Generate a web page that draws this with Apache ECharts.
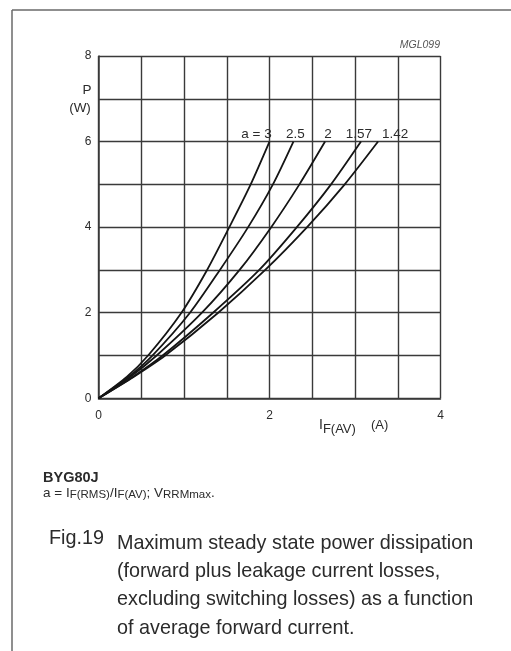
<!DOCTYPE html>
<html><head><meta charset="utf-8">
<script src="https://cdn.jsdelivr.net/npm/echarts@6/dist/echarts.min.js"></script>
<style>html,body{margin:0;padding:0;background:#fff}#c{width:511px;height:651px}</style>
</head><body><div id="c"></div>
<script>
// ---- data ----
const powerW = [0, 0.5, 1, 2, 3, 4, 5, 6];
const current_a3   = [0, 0.33, 0.58, 0.97, 1.27, 1.53, 1.78, 2.00];
const current_a25  = [0, 0.35, 0.63, 1.07, 1.42, 1.75, 2.04, 2.28];
const current_a2   = [0, 0.37, 0.68, 1.21, 1.65, 2.02, 2.35, 2.65];
const current_a157 = [0, 0.40, 0.75, 1.34, 1.88, 2.32, 2.72, 3.07];
const current_a142 = [0, 0.41, 0.78, 1.40, 1.95, 2.44, 2.88, 3.27];
const curveNames = ['a = 3', '2.5', '2', '1.57', '1.42'];
const xTickLabels = [0, 2, 4];
const yTickLabels = [0, 2, 4, 6, 8];

const FONT = "'Liberation Sans', Arial, Helvetica, sans-serif";
const TXT = '#2b2b2b';
const GRIDC = '#3a3a3a';

const curves = [current_a3, current_a25, current_a2, current_a157, current_a142];
const labelShift = [-13, 2, 3, -2, 17];

const series = curves.map((cur, k) => ({
  type: 'line',
  name: curveNames[k],
  smooth: 0.25,
  showSymbol: true,
  symbol: 'circle',
  symbolSize: 0,
  silent: true,
  lineStyle: { color: '#151515', width: 1.8 },
  itemStyle: { color: '#151515' },
  data: cur.map((x, i) => {
    const item = { value: [x, powerW[i]] };
    if (i === cur.length - 1) {
      item.label = {
        show: true, position: 'top', distance: 0,
        offset: [labelShift[k], 0],
        formatter: curveNames[k],
        fontFamily: FONT, fontSize: 13.5, color: TXT
      };
    }
    return item;
  })
}));

// helper to lay out text segments with subscripts
const cv = document.createElement('canvas').getContext('2d');
function segs(x, y, parts) {
  const out = [];
  let cx = x;
  parts.forEach(p => {
    const font = (p.bold ? 'bold ' : '') + p.size + 'px ' + FONT;
    cv.font = font;
    out.push({
      type: 'text', left: cx, top: y + (p.dy || 0) - p.size / 2,
      style: { text: p.t, font: font, fill: TXT }
    });
    cx += cv.measureText(p.t).width;
  });
  return out;
}

const graphics = [
  { type: 'line', shape: { x1: 12, y1: 10, x2: 511, y2: 10 }, style: { stroke: '#6a6a6a', lineWidth: 1.5 } },
  { type: 'line', shape: { x1: 12, y1: 10, x2: 12, y2: 651 }, style: { stroke: '#6a6a6a', lineWidth: 1.5 } },
  { type: 'text', right: 71, top: 40, style: { text: 'MGL099', font: 'italic 10.5px ' + FONT, fill: '#555' } },
  { type: 'text', x: 87, y: 90, style: { text: 'P', font: '13.5px ' + FONT, fill: TXT, align: 'center', verticalAlign: 'middle' } },
  { type: 'text', x: 80, y: 108, style: { text: '(W)', font: '13.5px ' + FONT, fill: TXT, align: 'center', verticalAlign: 'middle' } },
  ...segs(319, 425, [
    { t: 'I', size: 14 },
    { t: 'F(AV)', size: 13, dy: 4 }
  ]),
  { type: 'text', left: 371, top: 419, style: { text: '(A)', font: '13px ' + FONT, fill: TXT } },
  { type: 'text', left: 43, top: 470, style: { text: 'BYG80J', font: 'bold 14.5px ' + FONT, fill: TXT } },
  ...segs(43, 493, [
    { t: 'a = I', size: 13.5 },
    { t: 'F(RMS)', size: 11.5, dy: 2 },
    { t: '/I', size: 13.5 },
    { t: 'F(AV)', size: 11.5, dy: 2 },
    { t: '; V', size: 13.5 },
    { t: 'RRMmax', size: 11.5, dy: 2 },
    { t: '.', size: 13.5 }
  ]),
  { type: 'text', left: 49, top: 529, style: { text: 'Fig.19', font: '19.8px ' + FONT, fill: TXT } },
  { type: 'text', left: 117, top: 529, style: {
      text: 'Maximum steady state power dissipation\n(forward plus leakage current losses,\nexcluding switching losses) as a function\nof average forward current.',
      font: '19.8px ' + FONT, lineHeight: 28.3, fill: TXT } }
];

const chart = echarts.init(document.getElementById('c'), null, { renderer: 'canvas' });
chart.setOption({
  backgroundColor: '#ffffff',
  animation: false,
  grid: { left: 98.5, right: 70.5, top: 56, bottom: 252.7, containLabel: false },
  xAxis: {
    type: 'value', min: 0, max: 4, interval: 0.5,
    axisLine: { show: true, lineStyle: { color: GRIDC, width: 1.5 } },
    axisTick: { show: false },
    splitLine: { show: true, lineStyle: { color: GRIDC, width: 1.4 } },
    axisLabel: {
      margin: 11, fontFamily: FONT, fontSize: 12, color: TXT,
      formatter: v => xTickLabels.includes(v) ? String(v) : ''
    }
  },
  yAxis: {
    type: 'value', min: 0, max: 8, interval: 1,
    axisLine: { show: true, lineStyle: { color: GRIDC, width: 1.5 } },
    axisTick: { show: false },
    splitLine: { show: true, lineStyle: { color: GRIDC, width: 1.4 } },
    axisLabel: {
      margin: 7, fontFamily: FONT, fontSize: 12, color: TXT,
      formatter: v => yTickLabels.includes(v) ? String(v) : ''
    }
  },
  series: series,
  graphic: graphics
});
</script>
</body></html>
